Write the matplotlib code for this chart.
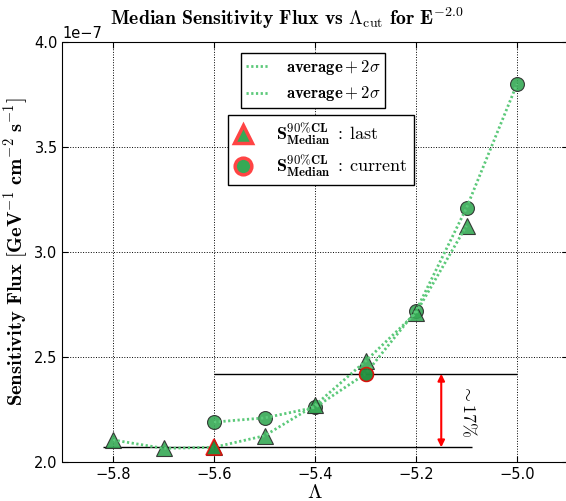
import matplotlib
matplotlib.use("Agg")
import matplotlib.pyplot as plt
import numpy as np

plt.rcParams["mathtext.fontset"] = "cm"
plt.rcParams["font.family"] = ["DejaVu Sans"]

# Median sensitivity flux (units of 1e-7 GeV^-1 cm^-2 s^-1) vs Lambda cut
lam_current = [-5.6, -5.5, -5.4, -5.3, -5.2, -5.1, -5.0]
flux_current = [2.19, 2.21, 2.26, 2.42, 2.72, 3.21, 3.80]

lam_last = [-5.8, -5.7, -5.6, -5.5, -5.4, -5.3, -5.2, -5.1]
flux_last = [2.105, 2.065, 2.07, 2.125, 2.27, 2.48, 2.71, 3.125]

# highlighted (best) points of each series
best_last = (-5.6, 2.07)
best_current = (-5.3, 2.42)

x_ticks = [-5.8, -5.6, -5.4, -5.2, -5.0]
y_ticks = [2.0, 2.5, 3.0, 3.5, 4.0]
improvement_label = r"$\sim 17\%$"

scale = 1e-7
fc = "#36a955"
lc = "#5cc97a"
dots = (0, (0.8, 0.9))

fig = plt.figure(figsize=(5.66, 5.01), dpi=100)
fig.patch.set_facecolor("white")
ax = fig.add_axes([62.5 / 566, 39 / 501, 505 / 566, 420 / 501])

ax.plot(lam_current, np.array(flux_current) * scale, ls=dots, lw=2.0, color=lc, zorder=4)
ax.plot(lam_last, np.array(flux_last) * scale, ls=dots, lw=2.0, color=lc, zorder=4)
ax.plot(lam_current, np.array(flux_current) * scale, ls="none", marker="o", ms=10,
        mfc=fc, mec="#2a2a2a", mew=0.8, alpha=0.9, zorder=3)
ax.plot(lam_last, np.array(flux_last) * scale, ls="none", marker="^", ms=11,
        mfc=fc, mec="#2a2a2a", mew=0.8, alpha=0.9, zorder=3)

ax.plot([best_last[0]], [best_last[1] * scale], ls="none", marker="^", ms=11,
        mfc="#1f8a3a", mec="red", mew=1.2, alpha=0.8, zorder=5)
ax.plot([best_current[0]], [best_current[1] * scale], ls="none", marker="o", ms=10,
        mfc="#1f8a3a", mec="red", mew=1.2, alpha=0.8, zorder=5)

# reference levels and improvement arrow
ax.hlines(best_last[1] * scale, -5.82, -5.09, color="black", lw=1, zorder=2)
ax.hlines(best_current[1] * scale, -5.6, -5.0, color="black", lw=1, zorder=2)
ax.annotate("", xy=(-5.15, best_last[1] * scale), xytext=(-5.15, best_current[1] * scale),
            arrowprops=dict(arrowstyle="<|-|>", color="red", lw=1.5,
                            mutation_scale=10, shrinkA=0, shrinkB=0))
ax.text(-5.097, (best_last[1] + best_current[1]) / 2 * scale, improvement_label,
        rotation=270, ha="center", va="center", fontsize=13)

ax.set_xlim(-5.9, -4.9)
ax.set_ylim(2.0 * scale, 4.0 * scale)
ax.set_xticks(x_ticks)
ax.set_yticks(np.array(y_ticks) * scale)
ax.tick_params(direction="in", top=True, right=True, labelsize=10.5, length=4)
ax.yaxis.get_offset_text().set_fontsize(10.5)
ax.grid(True, color="black", ls=":", lw=0.7)

fig.text(287 / 566, 1 - 18 / 501,
         r"$\mathbf{Median\ Sensitivity\ Flux\ vs\ \Lambda}_{\rm cut}\ \mathbf{for\ E}^{\mathbf{-2.0}}$",
         fontsize=14.3, ha="center", va="center")
ax.set_ylabel(r"$\mathbf{Sensitivity\ Flux\ [GeV^{-1}\ cm^{-2}\ s^{-1}]}$", fontsize=14.8, labelpad=2)
ax.set_xlabel(r"$\Lambda$", fontsize=15, labelpad=0)

# legends
h1, = ax.plot([], [], ls=dots, lw=2.0, color=lc)
h2, = ax.plot([], [], ls=dots, lw=2.0, color=lc)
leg1 = ax.legend([h1, h2], [r"$\mathbf{average} + 2\sigma$", r"$\mathbf{average} + 2\sigma$"],
                 loc="upper left", bbox_to_anchor=(0.353, 0.974), borderaxespad=0,
                 fancybox=False, edgecolor="black", framealpha=1, fontsize=12,
                 handlelength=1.4, handletextpad=1.0, borderpad=0.3, labelspacing=0.45)
leg1.get_frame().set_linewidth(1.0)
ax.add_artist(leg1)

m1, = ax.plot([], [], ls="none", marker="^", ms=13, mfc=fc, mec="#ff4444", mew=2.5)
m2, = ax.plot([], [], ls="none", marker="o", ms=12, mfc=fc, mec="#ff4444", mew=2.5)
leg2 = ax.legend([m1, m2], [r"$\mathbf{S^{90\%CL}_{Median}}\mathrm{\;:\;last}$",
                            r"$\mathbf{S^{90\%CL}_{Median}}\mathrm{\;:\;current}$"],
                 loc="upper left", bbox_to_anchor=(0.328, 0.826), borderaxespad=0,
                 fancybox=False, edgecolor="black", framealpha=1, fontsize=13,
                 handlelength=1.0, handletextpad=1.3, numpoints=1,
                 borderpad=0.35, labelspacing=0.35)
leg2.get_frame().set_linewidth(1.0)

fig.savefig("out.png", dpi=100, facecolor="white")
